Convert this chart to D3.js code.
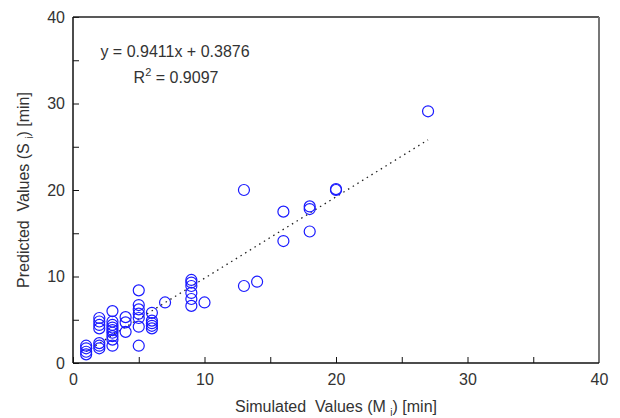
<!DOCTYPE html>
<html>
<head>
<meta charset="utf-8">
<script src="https://cdn.jsdelivr.net/npm/d3@7"></script>
<style>
	body { margin: 0; background: #fff; }
	text { font-family: 'Liberation Sans', Arial, sans-serif; fill: #333; }
</style>
</head>
<body>
<svg id="chart"></svg>
<script>
// simulated (x) and predicted (y) values, in minutes
const simulated = [
	1, 1, 1, 1,
	2, 2, 2, 2, 2, 2, 2,
	3, 3, 3, 3, 3, 3, 3, 3, 3,
	4, 4, 4,
	5, 5, 5, 5, 5, 5, 5,
	6, 6, 6, 6, 6,
	7,
	9, 9, 9, 9, 9, 9,
	10,
	13, 13,
	14,
	16, 16,
	18, 18, 18,
	20, 20,
	27
];
const predicted = [
	1.0, 1.3, 1.7, 2.0,
	1.7, 2.0, 2.3, 4.0, 4.4, 4.8, 5.2,
	2.0, 2.7, 3.1, 3.5, 3.8, 4.1, 4.4, 4.8, 6.0,
	3.6, 4.7, 5.3,
	2.0, 4.2, 5.2, 5.7, 6.2, 6.7, 8.4,
	4.0, 4.3, 4.6, 4.9, 5.8,
	7.0,
	6.6, 7.4, 8.1, 8.9, 9.3, 9.6,
	7.0,
	8.9, 20.0,
	9.4,
	14.1, 17.5,
	15.2, 17.8, 18.1,
	20.0, 20.1,
	29.1
];
const majorTicks = [0, 10, 20, 30, 40];
const minorTicks = [5, 15, 25, 35];
const slope = 0.9411, intercept = 0.3876;
const fitRange = [1, 27];
const eqLabel = 'y = 0.9411x + 0.3876';
const r2Value = '0.9097';

const width = 620, height = 418;
const plotLeft = 73, plotRight = 599, plotTop = 17, plotBottom = 363;

const svg = d3.select('#chart')
	.attr('width', width)
	.attr('height', height);

const xScale = d3.scaleLinear().domain([0, 40]).range([plotLeft, plotRight]);
const yScale = d3.scaleLinear().domain([0, 40]).range([plotBottom, plotTop]);

const fontFamily = "'Liberation Sans', Arial, sans-serif";

// ticks point inward, no labels on minor ones
svg.append('g')
	.attr('transform', `translate(0,${plotBottom})`)
	.call(d3.axisBottom(xScale).tickValues(majorTicks.concat(minorTicks)).tickSize(-6)
		.tickFormat(d => majorTicks.includes(d) ? d : ''))
	.call(g => g.select('.domain').remove())
	.call(g => g.selectAll('line').attr('stroke', '#111'))
	.call(g => g.selectAll('text').attr('dy', null).attr('y', 22)
		.style('font-size', '16px').style('font-family', fontFamily).attr('fill', '#333'));

svg.append('g')
	.attr('transform', `translate(${plotLeft},0)`)
	.call(d3.axisLeft(yScale).tickValues(majorTicks.concat(minorTicks)).tickSize(-6)
		.tickFormat(d => majorTicks.includes(d) ? d : ''))
	.call(g => g.select('.domain').remove())
	.call(g => g.selectAll('line').attr('stroke', '#111'))
	.call(g => g.selectAll('text').attr('x', -8)
		.style('font-size', '16px').style('font-family', fontFamily).attr('fill', '#333'));

// frame
svg.append('line').attr('x1', plotLeft).attr('x2', plotRight).attr('y1', plotTop).attr('y2', plotTop)
	.attr('stroke', '#222').attr('stroke-width', 1.5);
svg.append('line').attr('x1', plotRight).attr('x2', plotRight).attr('y1', plotTop).attr('y2', plotBottom)
	.attr('stroke', '#777').attr('stroke-width', 2);
svg.append('line').attr('x1', plotLeft).attr('x2', plotRight).attr('y1', plotBottom).attr('y2', plotBottom)
	.attr('stroke', '#111').attr('stroke-width', 1.5);
svg.append('line').attr('x1', plotLeft).attr('x2', plotLeft).attr('y1', plotTop).attr('y2', plotBottom)
	.attr('stroke', '#111').attr('stroke-width', 1.5);

// regression line
svg.append('line')
	.attr('x1', xScale(fitRange[0])).attr('y1', yScale(slope * fitRange[0] + intercept))
	.attr('x2', xScale(fitRange[1])).attr('y2', yScale(slope * fitRange[1] + intercept))
	.attr('stroke', '#222').attr('stroke-width', 1.3)
	.attr('stroke-dasharray', '1.5,4');

// points
svg.selectAll('.pt')
	.data(simulated.map((d, i) => ({ x: d, y: predicted[i] })))
	.enter()
	.append('circle')
	.attr('class', 'pt')
	.attr('cx', d => xScale(d.x))
	.attr('cy', d => yScale(d.y))
	.attr('r', 5.5)
	.attr('fill', 'none')
	.attr('stroke', '#1a1aff')
	.attr('stroke-width', 1.2);

// equation
svg.append('text')
	.attr('x', 175).attr('y', 57)
	.attr('text-anchor', 'middle')
	.style('font-size', '16px')
	.text(eqLabel);

const r2 = svg.append('text')
	.attr('x', 176).attr('y', 83)
	.attr('text-anchor', 'middle')
	.style('font-size', '16px');
r2.append('tspan').text('R');
r2.append('tspan').attr('dy', -7).style('font-size', '11px').text('2');
r2.append('tspan').attr('dy', 7).text(' = ' + r2Value);

// axis titles
const xt = svg.append('text')
	.attr('x', 336).attr('y', 412)
	.attr('text-anchor', 'middle')
	.style('font-size', '16px');
xt.append('tspan').text('Simulated\u00a0 Values (M ');
xt.append('tspan').attr('dy', 4).style('font-size', '10px').text('i');
xt.append('tspan').attr('dy', -4).text(') [min]');

const yt = svg.append('text')
	.attr('transform', 'translate(29,190) rotate(-90)')
	.attr('text-anchor', 'middle')
	.style('font-size', '16px');
yt.append('tspan').text('Predicted\u00a0 Values (S ');
yt.append('tspan').attr('dy', 4).style('font-size', '10px').text('i');
yt.append('tspan').attr('dy', -4).text(') [min]');
</script>
</body>
</html>
